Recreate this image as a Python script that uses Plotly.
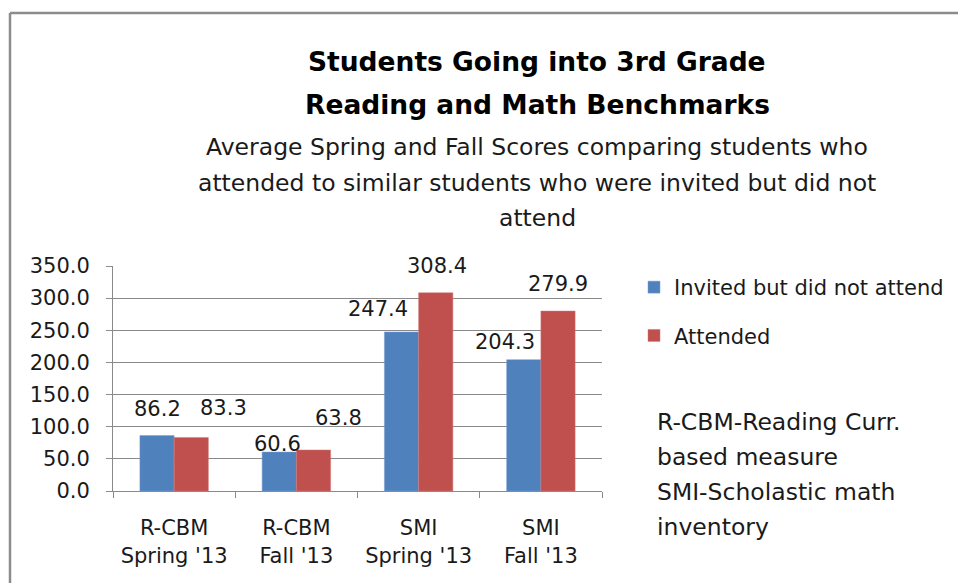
import plotly.graph_objects as go

# ---- data ----
categories = ["R-CBM<br>Spring '13", "R-CBM<br>Fall '13", "SMI<br>Spring '13", "SMI<br>Fall '13"]
invited = [86.2, 60.6, 247.4, 204.3]
attended = [83.3, 63.8, 308.4, 279.9]
y_ticks = [0, 50, 100, 150, 200, 250, 300, 350]

series_names = ["Invited but did not attend", "Attended"]
title_lines = ["Students Going into 3rd Grade", "Reading and Math Benchmarks"]
subtitle_lines = [
    "Average Spring and Fall Scores comparing students who",
    "attended to similar students who were invited but did not",
    "attend",
]
note_lines = [
    "R-CBM-Reading Curr.",
    "based measure",
    "SMI-Scholastic math",
    "inventory",
]

# ---- layout geometry (pixels) ----
W, H = 958, 583
ML, MR, MT, MB = 113, 356, 266, 92
PW, PH = W - ML - MR, H - MT - MB

FONT = "DejaVu Sans"
TXT = "#1a1a1a"
GRID = "#8a8a8a"
BLUE = "#4F81BD"
RED = "#C0504D"


def px(x):
    return (x - ML) / PW


def py(y):
    return (H - MB - y) / PH


fig = go.Figure()
fig.add_trace(go.Bar(x=categories, y=invited, name=series_names[0],
                     marker=dict(color=BLUE, line=dict(color="#7a9fd0", width=0.5)),
                     legendgroup="a"))
fig.add_trace(go.Bar(x=categories, y=attended, name=series_names[1],
                     marker=dict(color=RED, line=dict(color="#d07a78", width=0.5)),
                     legendgroup="b"))

annotations = []

# value labels, nudged around the bar tops (x shift, y shift in px)
label_offsets_inv = [(-17, 27), (-19, 8), (-41, 23), (-36, 18)]
label_offsets_att = [(49, 29), (42, 32), (18, 27), (17, 27)]
for i, c in enumerate(categories):
    for val, (dx, dy) in ((invited[i], label_offsets_inv[i]), (attended[i], label_offsets_att[i])):
        annotations.append(dict(x=c, y=val, xref="x", yref="y", text=f"{val:.1f}",
                                showarrow=False, xshift=dx, yshift=dy,
                                xanchor="center", yanchor="middle",
                                font=dict(family=FONT, size=21, color=TXT)))

# title and subtitle
for line, yc in zip(title_lines, [62, 104]):
    annotations.append(dict(x=px(537), y=py(yc), xref="paper", yref="paper", text=f"<b>{line}</b>",
                            showarrow=False, xanchor="center", yanchor="middle",
                            font=dict(family=FONT, size=26.5, color="#000000")))
for line, yc in zip(subtitle_lines, [147, 183, 218]):
    annotations.append(dict(x=px(537), y=py(yc), xref="paper", yref="paper", text=line,
                            showarrow=False, xanchor="center", yanchor="middle",
                            font=dict(family=FONT, size=23.5, color=TXT)))

# abbreviation note
for line, yc in zip(note_lines, [422, 457, 492, 527]):
    annotations.append(dict(x=px(655), y=py(yc), xref="paper", yref="paper", text=line,
                            showarrow=False, xanchor="left", yanchor="middle",
                            font=dict(family=FONT, size=23.5, color=TXT)))

# frame (left and top edges)
shapes = [
    dict(type="line", xref="paper", yref="paper", x0=px(10), x1=px(10), y0=py(13), y1=py(H + 5),
         line=dict(color="#8c8c8c", width=2.5)),
    dict(type="line", xref="paper", yref="paper", x0=px(10), x1=px(W + 5), y0=py(13), y1=py(13),
         line=dict(color="#8c8c8c", width=2.5)),
]

fig.update_layout(
    width=W, height=H,
    margin=dict(l=ML, r=MR, t=MT, b=MB, pad=0, autoexpand=False),
    paper_bgcolor="white", plot_bgcolor="white",
    barmode="group", bargap=0.44, bargroupgap=0,
    font=dict(family=FONT, size=21, color=TXT),
    showlegend=True,
    legend=dict(x=px(634), y=py(267), xanchor="left", yanchor="top",
                font=dict(family=FONT, size=21, color=TXT),
                tracegroupgap=18, traceorder="grouped",
                bgcolor="rgba(0,0,0,0)"),
    annotations=annotations,
    shapes=shapes,
)

fig.update_xaxes(
    type="category", showgrid=False, showline=True, linecolor=GRID, linewidth=1,
    ticks="outside", tickson="boundaries", ticklen=6, tickcolor=GRID,
    ticklabelstandoff=18,
    tickfont=dict(family=FONT, size=21, color=TXT),
)
fig.update_yaxes(
    range=[0, 350], tickvals=y_ticks, ticktext=[f"{v:.1f}" for v in y_ticks],
    showgrid=True, gridcolor=GRID, gridwidth=1, zeroline=False,
    showline=True, linecolor=GRID, linewidth=1,
    ticks="outside", ticklen=6, tickcolor=GRID, ticklabelstandoff=12,
    tickfont=dict(family=FONT, size=21, color=TXT),
)

fig.write_html("out.html")
